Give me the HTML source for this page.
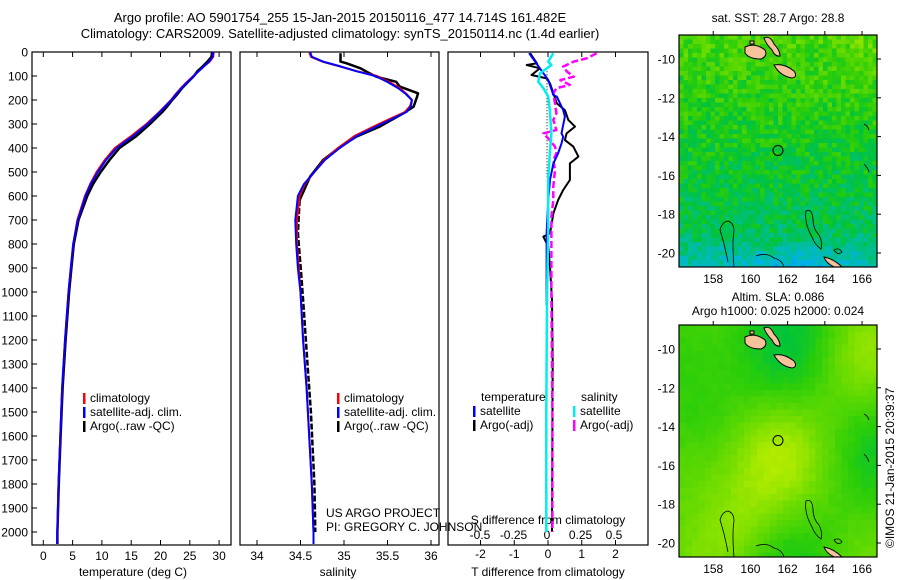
<!DOCTYPE html>
<html><head><meta charset="utf-8"><style>
html,body{margin:0;padding:0;background:#fff}
svg{display:block;font-family:"Liberation Sans",sans-serif}
text{fill:#000}
</style></head><body>
<svg id="fig" width="900" height="580" viewBox="0 0 900 580" xmlns="http://www.w3.org/2000/svg">
<text x="340" y="22" font-size="13" text-anchor="middle">Argo profile: AO 5901754_255 15-Jan-2015 20150116_477 14.714S 161.482E</text>
<text x="340" y="38" font-size="13" text-anchor="middle">Climatology: CARS2009. Satellite-adjusted climatology: synTS_20150114.nc (1.4d earlier)</text>
<g id="maps"></g>
<g id="plots"></g>
<text x="778" y="22" font-size="12" text-anchor="middle">sat. SST: 28.7 Argo: 28.8</text>
<text x="778" y="301" font-size="12" text-anchor="middle">Altim. SLA: 0.086</text>
<text x="778" y="315" font-size="12" text-anchor="middle">Argo h1000: 0.025 h2000: 0.024</text>
<text transform="translate(894,548) rotate(-90)" font-size="12">©IMOS 21-Jan-2015 20:39:37</text>
</svg>
<script>
// ---------- data ----------
const depthClim = [0,20,40,60,80,100,125,150,175,200,225,250,300,350,400,450,500,550,600,700,800,900,1000,1200,1400,1600,1800,2000,2050];
const tempClim  = [29.1,29.0,28.4,27.4,26.5,25.6,24.5,23.5,22.6,21.8,20.8,19.8,17.6,15.0,12.2,10.5,9.1,8.0,7.1,5.8,5.1,4.7,4.3,3.7,3.2,2.9,2.6,2.4,2.35];
const tempSat   = [29.0,28.9,28.3,27.4,26.5,25.7,24.6,23.6,22.7,21.9,20.9,19.9,17.8,15.3,12.5,10.7,9.3,8.1,7.2,5.9,5.1,4.7,4.3,3.7,3.2,2.9,2.6,2.4,2.35];
const tempArgo  = [28.8,28.7,28.0,27.2,26.3,25.7,24.7,23.7,22.9,22.0,21.2,20.3,18.2,15.9,13.0,11.3,9.8,8.5,7.5,6.0,5.2,4.8,4.4,3.8,3.3,2.95,2.65,2.4,2.4];
const salClim   = [34.60,34.62,34.75,34.95,35.15,35.38,35.52,35.64,35.72,35.78,35.76,35.70,35.40,35.12,34.93,34.77,34.66,34.55,34.49,34.46,34.46,34.48,34.50,34.53,34.57,34.60,34.63,34.65,34.65];
const salSat    = [34.61,34.63,34.76,34.96,35.14,35.36,35.50,35.62,35.71,35.78,35.77,35.72,35.43,35.15,34.95,34.78,34.66,34.54,34.47,34.44,34.45,34.47,34.50,34.53,34.57,34.60,34.63,34.65,34.65];
const depthSalArgo = [5,40,47,68,82,103,124,144,172,186,228,256,311,353,394,450,519,617];
const salArgo      = [34.96,34.96,35.03,35.19,35.26,35.37,35.60,35.64,35.85,35.84,35.80,35.68,35.41,35.14,34.96,34.76,34.61,34.49];
const depthSalArgoDeep = [617,756,936,1033,1300,1500,1800,2000];
const salArgoDeep      = [34.49,34.47,34.51,34.53,34.58,34.62,34.66,34.67];
const depthDTArgo = [5,47,54,68,96,110,131,172,214,242,283,311,339,367,394,436,464,533,575,617,672,756,769,783,811,894,1033,1300,2000];
const dTArgo      = [-0.53,-0.33,-0.63,-0.24,-0.49,-0.04,0.06,0.16,0.26,0.50,0.60,0.80,0.55,0.50,0.75,0.90,0.65,0.65,0.45,0.30,0.16,0.06,-0.14,-0.09,0.01,0.06,0.12,0.14,0.12];
const depthDTSat = [5,68,117,179,186,242,269,339,353,381,422,464,533,617,756,1033,1055];
const dTSat      = [-0.56,-0.24,0.01,0.16,0.26,0.45,0.50,0.40,0.45,0.40,0.30,0.16,0.06,0.01,-0.04,-0.04,-0.04];
const depthDSSat = [5,40,54,89,124,151,186,242,339,422,533,756,1033,1500,2000];
const dSSat      = [0.047,0.009,0.033,-0.052,-0.065,-0.027,0.009,0.021,0.033,0.021,0.009,0.009,0.0,-0.005,-0.005];
const depthDSArgo = [5,26,40,61,82,103,117,137,151,172,214,256,283,325,339,367,394,422,450,492,561,617,686,1033,1500,2000];
const dSArgo      = [0.37,0.30,0.20,0.12,0.15,0.20,0.10,0.17,0.07,0.047,0.06,0.07,0.047,0.07,-0.027,0.021,0.06,0.07,0.047,0.06,0.047,0.047,0.033,0.033,0.04,0.04];
const depthTicks = [0,100,200,300,400,500,600,700,800,900,1000,1100,1200,1300,1400,1500,1600,1700,1800,1900,2000];
const tempTicks = [0,5,10,15,20,25,30];
const salTicks = [34,34.5,35,35.5,36];
const dTTicks = [-2,-1,0,1,2];
const dSTicks = [-0.5,-0.25,0,0.25,0.5];
const latTicks = [-10,-12,-14,-16,-18,-20];
const lonTicks = [158,160,162,164,166];

const NS="http://www.w3.org/2000/svg";
const plots=document.getElementById('plots');
function mk(tag,attrs,parent){const e=document.createElementNS(NS,tag);for(const k in attrs)e.setAttribute(k,attrs[k]);(parent||plots).appendChild(e);return e;}
function yD(d){return 52+d*0.24;}
const xT=v=>43.3+v*5.86, xS=v=>257+(v-34)*87, xdT=v=>548+v*33.75, xdS=v=>547+v*134;
const TOP=52,BOT=545;
function line(xs,ds,fx,color,w,name,dash){
  const pts=xs.map((v,i)=>fx(v).toFixed(1)+','+yD(ds[i]).toFixed(1)).join(' ');
  const p=mk('polyline',{points:pts,fill:'none',stroke:color,'stroke-width':w,'stroke-linejoin':'round'});
  if(dash)p.setAttribute('stroke-dasharray',dash);
  
  
}
function frame(x0,x1,name){
  const r=mk('rect',{x:x0,y:TOP,width:x1-x0,height:BOT-TOP,fill:'none',stroke:'#000','stroke-width':1.2});
  
  
}
function xticks(vals,fx,ylab,labs,name){
  vals.forEach((v,i)=>{const x=fx(v);
    mk('line',{x1:x,x2:x,y1:BOT,y2:BOT-5,stroke:'#000'});
    mk('line',{x1:x,x2:x,y1:TOP,y2:TOP+5,stroke:'#000'});
    const t=mk('text',{x:x,y:ylab,'font-size':12,'text-anchor':'middle'});t.textContent=labs?labs[i]:v;
    
    
  });
}
frame(32,231,'temperature-panel');frame(240,439,'salinity-panel');frame(448,648,'difference-panel');
depthTicks.forEach(d=>{const y=yD(d);
  mk('line',{x1:32,x2:37,y1:y,y2:y,stroke:'#000'});
  const t=mk('text',{x:28,y:y+4.5,'font-size':12,'text-anchor':'end'});t.textContent=d;
  
  
});
xticks(tempTicks,xT,560,null,'temperature-tick-label');
xticks(salTicks,xS,560,null,'salinity-tick-label');
xticks(dTTicks,xdT,558,null,'t-diff-tick-label');
dSTicks.forEach(v=>{const t=mk('text',{x:xdS(v),y:539,'font-size':12,'text-anchor':'middle'});t.textContent=v;
  
  });
function label(x,y,s,name,anchor){const t=mk('text',{x:x,y:y,'font-size':12,'text-anchor':anchor||'middle'});t.textContent=s;
  
  }
label(133,576,'temperature (deg C)','temperature-axis-title');
label(338,576,'salinity','salinity-axis-title');
label(548,576,'T difference from climatology','t-diff-axis-title');
label(548,524,'S difference from climatology','s-diff-axis-title');
line(tempArgo,depthClim,xT,'#000',2.5,'temp-argo-line');
line(tempClim,depthClim,xT,'#f00',2,'temp-clim-line');
line(tempSat,depthClim,xT,'#00f',2,'temp-sat-line');
line(salArgo,depthSalArgo,xS,'#000',2.5,'sal-argo-line');
line(salArgoDeep,depthSalArgoDeep,xS,'#000',2.5,'sal-argo-deep-line','6,2');
line(salClim,depthClim,xS,'#f00',2,'sal-clim-line');
line(salSat,depthClim,xS,'#00f',2,'sal-sat-line');
mk('line',{x1:547,x2:547,y1:yD(80),y2:yD(520),stroke:'#000','stroke-dasharray':'1,2'});
line(dTArgo,depthDTArgo,xdT,'#000',2,'tdiff-argo-line');
line(dSArgo,depthDSArgo,xdS,'#f0f',2.5,'sdiff-argo-line','7,3');
line(dTSat,depthDTSat,xdT,'#00f',2,'tdiff-sat-line');
line(dSSat,depthDSSat,xdS,'#0ee',2.5,'sdiff-sat-line');
function leg(x,y,c,s,name){const r=mk('rect',{x:x,y:y-9,width:2.5,height:11,fill:c});
  
  label(x+7,y,s,name,'start');}
leg(83,402,'#f00','climatology','legend-climatology');
leg(83,416,'#00f','satellite-adj. clim.','legend-satellite-adj');
leg(83,430,'#000','Argo(..raw -QC)','legend-argo');
leg(337,402,'#f00','climatology','legend2-climatology');
leg(337,416,'#00f','satellite-adj. clim.','legend2-satellite-adj');
leg(337,430,'#000','Argo(..raw -QC)','legend2-argo');
label(481,401,'temperature','legend-temperature-heading','start');
leg(473,415,'#00f','satellite','legend-t-satellite');
leg(473,429,'#000','Argo(-adj)','legend-t-argo');
label(581,401,'salinity','legend-salinity-heading','start');
leg(573,415,'#0ee','satellite','legend-s-satellite');
leg(573,429,'#f0f','Argo(-adj)','legend-s-argo');
label(326,517,'US ARGO PROJECT','project-label','start');
label(326,531,'PI: GREGORY C. JOHNSON','pi-label','start');

// ---------- maps ----------
const maps=document.getElementById('maps');
const stops=[[0.3,[20,120,235]],[0.4,[0,180,230]],[0.48,[0,190,150]],[0.55,[0,195,60]],[0.6,[40,205,10]],[0.67,[110,220,0]],[0.74,[190,238,0]],[0.82,[238,230,0]],[0.9,[240,160,32]]];
function cmap(t){if(t<=stops[0][0])return stops[0][1];for(let i=1;i<stops.length;i++){if(t<=stops[i][0]){const a=stops[i-1],b=stops[i],f=(t-a[0])/(b[0]-a[0]);return a[1].map((v,k)=>Math.round(v+(b[1][k]-v)*f));}}return stops[stops.length-1][1];}
function hash(i,j,s){let h=(i*374761393+j*668265263+s*982451653)|0;h=(h^(h>>>13))*1274126177|0;return ((h^(h>>>16))>>>0)/4294967296;}
const MX0=679,MX1=877;
function drawMap(y0,y1,kind,name){
  const g=mk('g',{},maps);
  
  
  const cs=kind==='sst'?4.5:6.5;
  let s='';
  for(let j=0;y0+j*cs<y1;j++)for(let i=0;MX0+i*cs<MX1;i++){
    const fx=i*cs/(MX1-MX0), fy=j*cs/(y1-y0);
    let t;
    if(kind==='sst'){
      t=0.63-0.12*fy+0.08*Math.max(0,fx-0.6)*Math.max(0,1-fy*3)+(hash(i,j,1)-0.5)*0.1;
      if(fy>0.85)t-=0.12*(fy-0.85)/0.15*(1-Math.abs(fx-0.55));
    }else{
      t=0.62+0.05*Math.sin(fx*7+1)*Math.cos(fy*6)+0.07*Math.exp(-((fx-0.45)**2+(fy-0.55)**2)*12)+0.06*Math.exp(-((fx-0.05)**2+(fy-0.6)**2)*20)+0.05*Math.exp(-((fx-0.3)**2+(fy-0.85)**2)*25)+0.05*Math.exp(-((fx-0.9)**2+(fy-0.2)**2)*20)-0.05*Math.exp(-((fx-0.05)**2+(fy-0.05)**2)*20)-0.04*Math.exp(-((fx-0.5)**2+(fy-0.25)**2)*15)+(hash(i,j,2)-0.5)*0.012;
    }
    const c=cmap(t);
    const w=Math.min(cs,MX1-(MX0+i*cs)), h=Math.min(cs,y1-(y0+j*cs));
    s+=`<rect x="${(MX0+i*cs).toFixed(1)}" y="${(y0+j*cs).toFixed(1)}" width="${(w+0.3).toFixed(1)}" height="${(h+0.3).toFixed(1)}" fill="rgb(${c})"/>`;
  }
  g.insertAdjacentHTML('beforeend',s);
  const o=y0-35;
  const isl=`<path d="M745,${47+o} q10,-5 20,3 q3,6 -4,9 q-12,0 -16,-6z M764,${38+o} q6,-3 10,6 q6,6 6,12 q-5,1 -8,-6 q-6,-6 -8,-12z M774,${65+o} q10,-2 20,6 q4,6 -2,7 q-12,-2 -18,-13z M824,${257+o} q10,2 18,10 l-8,0 q-8,-4 -10,-10z M750,${41+o} l4,0 0,3 -4,0z" fill="#f5c29a" stroke="#000" stroke-width="1"/>
  <path d="M806,${211+o} q6,-3 7,8 q0,10 6,16 q4,8 2,14 q-6,-4 -9,-12 q-8,-14 -6,-26z M720,${230+o} q2,-8 8,-9 q6,2 6,10 q-2,12 0,36 M728,${262+o} q-4,-20 -8,-32 M756,${256+o} q10,-4 18,2 q8,2 10,9 M834,${250+o} q5,-3 8,2 q-4,4 -8,-2z M864,${164+o} q4,4 5,8 M864,${124+o} q4,2 5,6" fill="none" stroke="#000" stroke-width="0.8"/>
  <circle cx="${679+(161.482-156.16)*18.6}" cy="${59+(14.714-10)*19.4+o}" r="5" fill="none" stroke="#000" stroke-width="1"/>`;
  g.insertAdjacentHTML('beforeend',isl);
  mk('rect',{x:MX0,y:y0,width:MX1-MX0,height:y1-y0,fill:'none',stroke:'#000','stroke-width':1.2},maps);
  latTicks.forEach(v=>{const y=59+(-10-v)*19.4+o;
    mk('line',{x1:MX1,x2:MX1+4,y1:y,y2:y,stroke:'#000'},maps);
    const t=mk('text',{x:675,y:y+4.5,'font-size':12,'text-anchor':'end'},maps);t.textContent=v;
    
    });
  lonTicks.forEach(v=>{const x=679+(v-156.16)*18.6;
    mk('line',{x1:x,x2:x,y1:y0,y2:y0-4,stroke:'#000'},maps);
    const t=mk('text',{x:x,y:y1+16,'font-size':12,'text-anchor':'middle'},maps);t.textContent=v;
    
    });
}
drawMap(35,267,'sst','sst-map');
drawMap(325,557,'sla','sla-map');
</script>
</body></html>
